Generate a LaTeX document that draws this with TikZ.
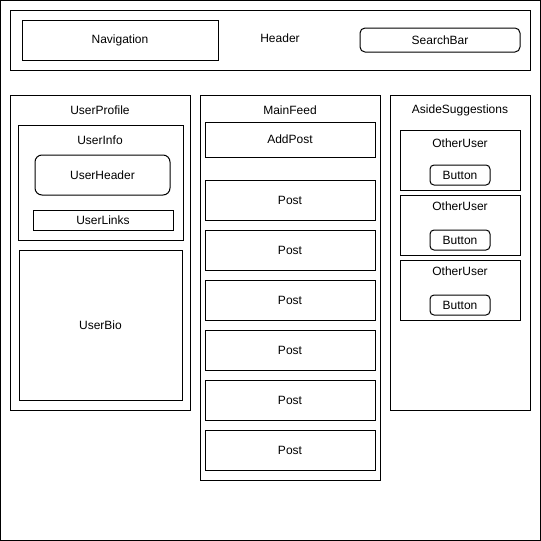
\documentclass[tikz,border=0pt]{standalone}
\usepackage{fontspec}
\setmainfont{Liberation Sans}
\begin{document}
\begin{tikzpicture}[x=1pt,y=-1pt,
  box/.style={draw=black, line width=1pt, inner sep=0pt, fill=white, font=\fontsize{12}{14}\selectfont},
  rbox/.style={box, rounded corners=5pt},
  txt/.style={inner sep=0pt, font=\fontsize{12}{14}\selectfont}]
\useasboundingbox (0,0) rectangle (541,541);
\node[box, minimum width=540pt, minimum height=540pt] (page) at (270.5,270.5) {};
% header
\node[box, minimum width=520pt, minimum height=60pt] (header) at (270,40) {};
\node[txt] (headertitle) at (280,38) {Header};
\node[box, minimum width=196pt, minimum height=40pt] (nav) at (120,40) {Navigation};
\node[rbox, minimum width=160pt, minimum height=24pt] (search) at (440,40) {SearchBar};
% user profile
\node[box, minimum width=180pt, minimum height=315pt] (profile) at (100,252.5) {};
\node[txt] (profiletitle) at (100,110) {UserProfile};
\node[box, minimum width=165pt, minimum height=115pt] (info) at (100.5,182.5) {};
\node[txt] (infotitle) at (100,140) {UserInfo};
\node[box, rounded corners=7pt, minimum width=135pt, minimum height=40pt] (uheader) at (102.5,175) {UserHeader};
\node[box, minimum width=140pt, minimum height=20pt] (ulinks) at (103,220) {UserLinks};
\node[box, minimum width=163pt, minimum height=150pt] (ubio) at (100.5,325) {UserBio};
% main feed
\node[box, minimum width=180pt, minimum height=385pt] (feed) at (290,287.5) {};
\node[txt] (feedtitle) at (290,110) {MainFeed};
\node[box, minimum width=170pt, minimum height=35pt] (addpost) at (290,139.5) {AddPost};
\foreach \i/\y in {1/200,2/250,3/300,4/350,5/400,6/450}
  \node[box, minimum width=170pt, minimum height=40pt] (post\i) at (290,\y) {Post};
% aside
\node[box, minimum width=140pt, minimum height=315pt] (aside) at (460,252.5) {};
\node[txt] (asidetitle) at (460,110) {AsideSuggestions};
\foreach \i/\y/\t/\b in {1/160/143/175,2/225/206/240,3/290/271/305}{
  \node[box, minimum width=120pt, minimum height=60pt] (other\i) at (460,\y) {};
  \node[txt] (othertitle\i) at (460,\t) {OtherUser};
  \node[box, rounded corners=4pt, minimum width=60pt, minimum height=20pt] (button\i) at (460,\b) {Button};
}
\end{tikzpicture}
\end{document}
